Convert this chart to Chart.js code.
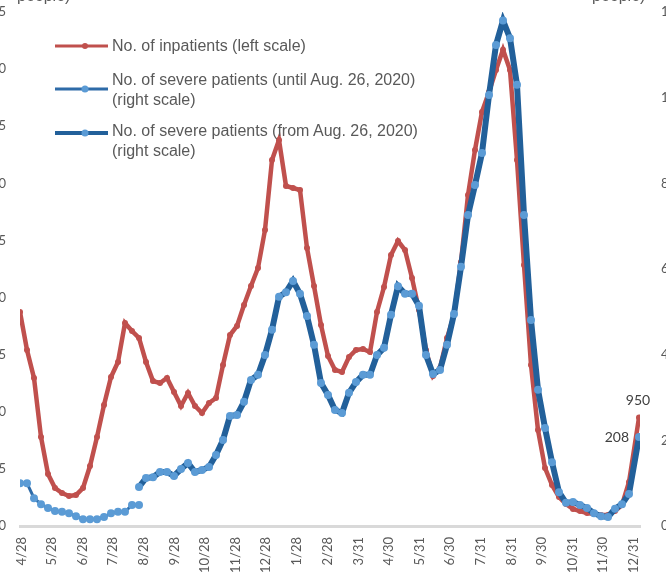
<!DOCTYPE html>
<html><head><meta charset="utf-8">
<script src="https://cdn.jsdelivr.net/npm/chart.js@4"></script>
<style>
html,body{margin:0;padding:0;width:666px;height:585px;overflow:hidden;background:#fff;font-family:"Liberation Sans",Arial,sans-serif;}
#wrap{position:absolute;left:-40px;top:-30px;width:746px;height:615px;}
.item{position:absolute;left:55px;white-space:nowrap;color:#595959;font-size:16px;line-height:20px;}
.item svg{position:absolute;left:0;}
.item .txt{position:absolute;left:57px;top:0;}
.title{position:absolute;color:#595959;font-size:16px;line-height:18px;white-space:nowrap;}
</style></head>
<body>
<div id="wrap"><canvas id="c" width="746" height="615"></canvas></div>
<div class="title" style="left:17px;top:-31px;">(thousand<br>people)</div>
<div class="title" style="left:592px;top:-31px;">(No. of<br>people)</div>
<div class="item" style="top:36px;">
  <svg width="55" height="10" style="top:5px"><line x1="0" y1="5" x2="53" y2="5" stroke="#C0504D" stroke-width="3"/><circle cx="30" cy="5" r="3" fill="#C0504D"/></svg>
  <div class="txt">No. of inpatients (left scale)</div>
</div>
<div class="item" style="top:70px;">
  <svg width="55" height="10" style="top:14px"><line x1="0" y1="5" x2="53" y2="5" stroke="#2E6BA8" stroke-width="3"/><circle cx="30" cy="5" r="3.5" fill="#5B9BD5"/></svg>
  <div class="txt">No. of severe patients (until Aug. 26, 2020)<br>(right scale)</div>
</div>
<div class="item" style="top:121px;">
  <svg width="55" height="10" style="top:7px"><line x1="0" y1="5" x2="53" y2="5" stroke="#22609A" stroke-width="4"/><circle cx="30" cy="5" r="3.5" fill="#5B9BD5"/></svg>
  <div class="txt">No. of severe patients (from Aug. 26, 2020)<br>(right scale)</div>
</div>
<script>
const dates = [
 "2020-04-26","2020-05-03","2020-05-10","2020-05-17","2020-05-24","2020-05-31","2020-06-07","2020-06-14","2020-06-21","2020-06-28",
 "2020-07-05","2020-07-12","2020-07-19","2020-07-26","2020-08-02","2020-08-09","2020-08-16","2020-08-23","2020-08-30","2020-09-06",
 "2020-09-13","2020-09-20","2020-09-27","2020-10-04","2020-10-11","2020-10-18","2020-10-25","2020-11-01","2020-11-08","2020-11-15",
 "2020-11-22","2020-11-29","2020-12-06","2020-12-13","2020-12-20","2020-12-27","2021-01-03","2021-01-10","2021-01-17","2021-01-24",
 "2021-01-31","2021-02-07","2021-02-14","2021-02-21","2021-02-28","2021-03-07","2021-03-14","2021-03-21","2021-03-28","2021-04-04",
 "2021-04-11","2021-04-18","2021-04-25","2021-05-02","2021-05-09","2021-05-16","2021-05-23","2021-05-30","2021-06-06","2021-06-13",
 "2021-06-20","2021-06-27","2021-07-04","2021-07-11","2021-07-18","2021-07-25","2021-08-01","2021-08-08","2021-08-15","2021-08-22",
 "2021-08-29","2021-09-05","2021-09-12","2021-09-19","2021-09-26","2021-10-03","2021-10-10","2021-10-17","2021-10-24","2021-10-31",
 "2021-11-07","2021-11-14","2021-11-21","2021-11-28","2021-12-05","2021-12-12","2021-12-19","2021-12-26","2022-01-05"
];
const inpatients = [
 1874,1541,1296,779,455,333,289,263,271,333,
 525,779,1059,1304,1436,1777,1707,1646,1436,1269,
 1252,1296,1173,1051,1164,1051,989,1077,1121,1410,
 1672,1751,1935,2101,2259,2591,3204,3379,2977,2959,
 2942,2434,2101,1760,1488,1366,1348,1480,1541,1550,
 1523,1874,2092,2373,2495,2416,2171,1891,1541,1313,
 1383,1646,1847,2311,2898,3292,3625,3800,3992,4170,
 3992,3204,2285,1410,840,508,359,254,193,149,
 131,114,105,96,96,131,184,385,950
];
const severeUntilStart = "2020-04-26";
const severeUntil = [100,100,65,51,42,35,33,30,23,16,16,16,21,30,33,33,49,49];
const severeFromStart = "2020-08-23";
const severeFrom = [
 91,112,114,126,126,117,133,147,126,131,
 138,166,201,257,259,290,341,353,399,458,
 535,546,572,542,490,423,334,306,271,264,
 311,336,353,353,399,416,493,560,542,542,
 514,399,355,364,423,495,605,726,796,871,
 1006,1123,1180,1139,1030,726,481,318,229,149,
 79,54,56,49,42,30,23,21,40,51,
 75,208
];
const tickDates = ["2020-04-28","2020-05-28","2020-06-28","2020-07-28","2020-08-28","2020-09-28","2020-10-28","2020-11-28","2020-12-28",
 "2021-01-28","2021-02-28","2021-03-31","2021-04-30","2021-05-31","2021-06-30","2021-07-31","2021-08-31","2021-09-30","2021-10-31","2021-11-30","2021-12-31"];
const tickLabels = ["4/28","5/28","6/28","7/28","8/28","9/28","10/28","11/28","12/28","1/28","2/28","3/31","4/30","5/31","6/30","7/31","8/31","9/30","10/31","11/30","12/31"];

const ORIGIN = Date.UTC(2020,3,28);
function dayOf(s){ const p = s.split('-').map(Number); return (Date.UTC(p[0],p[1]-1,p[2]) - ORIGIN)/86400000; }
const xs = dates.map(dayOf);
const i0 = dates.indexOf(severeUntilStart), i1 = dates.indexOf(severeFromStart);
const redData = inpatients.map((v,i)=>({x:xs[i],y:v}));
const oldData = severeUntil.map((v,i)=>({x:xs[i0+i],y:v}));
const newData = severeFrom.map((v,i)=>({x:xs[i1+i],y:v}));

const tickFont = {family:'Lato', size:13};
const endLabels = {
  id:'endLabels',
  afterDatasetsDraw(chart){
    const c = chart.ctx;
    c.save();
    c.font = '14px Lato';
    c.fillStyle = '#404040';
    const r = chart.getDatasetMeta(0).data; const pr = r[r.length-1];
    c.textAlign='center'; c.textBaseline='middle';
    c.fillText(String(inpatients[inpatients.length-1]), pr.x-1, pr.y-17);
    const b = chart.getDatasetMeta(2).data; const pb = b[b.length-1];
    c.textAlign='right';
    c.fillText(String(severeFrom[severeFrom.length-1]), pb.x-10, pb.y+1);
    c.restore();
  }
};

new Chart(document.getElementById('c'), {
  type:'line',
  data:{datasets:[
    {label:'No. of inpatients (left scale)', data:redData, yAxisID:'yL', borderColor:'#C0504D', backgroundColor:'#C0504D',
     borderWidth:4.5, pointRadius:3, pointBackgroundColor:'#C0504D', pointBorderWidth:0, tension:0, order:3},
    {label:'No. of severe patients (until Aug. 26, 2020) (right scale)', data:oldData, yAxisID:'yR', borderColor:'#2E6BA8', backgroundColor:'#5B9BD5',
     borderWidth:3, pointRadius:4, pointBackgroundColor:'#5B9BD5', pointBorderWidth:0, tension:0, order:2},
    {label:'No. of severe patients (from Aug. 26, 2020) (right scale)', data:newData, yAxisID:'yR', borderColor:'#22609A', backgroundColor:'#5B9BD5',
     borderWidth:6, pointRadius:4, pointBackgroundColor:'#5B9BD5', pointBorderWidth:0, tension:0, order:1}
  ]},
  options:{
    responsive:false, animation:false, devicePixelRatio:1,
    layout:{padding:{top:42,left:0,right:0,bottom:0}},
    plugins:{legend:{display:false}, tooltip:{enabled:false}},
    scales:{
      x:{type:'linear', min:-2, max:618,
         grid:{display:false, drawTicks:false}, border:{display:true,color:'#D9D9D9',width:3},
         afterBuildTicks:s=>{ s.ticks = tickDates.map(d=>({value:dayOf(d)})); },
         afterFit:s=>{ s.height = 59; },
         ticks:{autoSkip:false, maxRotation:90, minRotation:90, padding:11, color:'#595959', font:tickFont,
                callback:(v,i)=>tickLabels[i]}},
      yL:{position:'left', min:0, max:4500, grid:{display:false, drawTicks:false}, border:{display:false},
          afterFit:s=>{ s.width = 60; },
          ticks:{stepSize:500, padding:14, color:'#595959', font:tickFont, callback:v=>(v/1000).toFixed(1)}},
      yR:{position:'right', min:0, max:1200, grid:{display:false, drawTicks:false}, border:{display:false},
          afterFit:s=>{ s.width = 66; },
          ticks:{stepSize:200, padding:21, color:'#595959', font:tickFont, callback:v=>v.toLocaleString('en-US')}}
    }
  },
  plugins:[endLabels]
});
</script>
</body></html>
